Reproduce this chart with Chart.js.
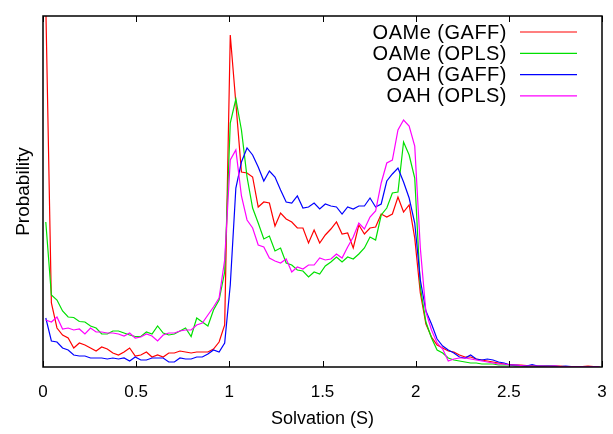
<!DOCTYPE html>
<html>
<head>
<meta charset="utf-8">
<script src="https://cdn.jsdelivr.net/npm/chart.js@4.4.1/dist/chart.umd.min.js"></script>
<style>
  html, body { margin: 0; padding: 0; background: #fff; }
  #wrap { width: 613px; height: 434px; }
</style>
</head>
<body>
<div id="wrap"><canvas id="solvChart" width="613" height="434"></canvas></div>
<script>
// bin centres of the solvation histogram
var solvation = [0.015,0.045,0.075,0.105,0.135,0.165,0.195,0.225,0.255,0.285,0.315,0.345,0.375,0.405,0.435,0.465,0.495,0.525,0.555,0.585,0.615,0.645,0.675,0.705,0.735,0.765,0.795,0.825,0.855,0.885,0.915,0.945,0.975,1.005,1.035,1.065,1.095,1.125,1.155,1.185,1.215,1.245,1.275,1.305,1.335,1.365,1.395,1.425,1.455,1.485,1.515,1.545,1.575,1.605,1.635,1.665,1.695,1.725,1.755,1.785,1.815,1.845,1.875,1.905,1.935,1.965,1.995,2.025,2.055,2.085,2.115,2.145,2.175,2.205,2.235,2.265,2.295,2.325,2.355,2.385,2.415,2.445,2.475,2.505,2.535,2.565,2.595,2.625,2.655,2.685,2.715,2.745,2.775,2.805,2.835,2.865,2.895,2.925,2.955,2.985];

var oameGaff = [3.62,0.64,0.39,0.32,0.29,0.19,0.24,0.22,0.19,0.16,
  0.20,0.18,0.14,0.12,0.15,0.19,0.11,0.12,0.15,0.10,
  0.12,0.10,0.14,0.14,0.16,0.15,0.14,0.15,0.15,0.15,
  0.18,0.25,0.42,3.32,2.64,1.95,1.94,1.90,1.60,1.65,
  1.64,1.41,1.54,1.48,1.45,1.39,1.39,1.24,1.37,1.24,
  1.32,1.38,1.45,1.33,1.34,1.19,1.42,1.33,1.39,1.40,
  1.53,1.50,1.53,1.70,1.55,1.62,1.29,0.74,0.43,0.30,
  0.22,0.19,0.16,0.15,0.12,0.10,0.10,0.08,0.07,0.06,
  0.05,0.04,0.03,0.025,0.02,0.02,0.015,0.015,0.01,0.01,
  0.01,0.01,0.01,0.005,0.005,0.005,0.005,0.01,0.005,0.005];

var oameOpls = [1.45,0.72,0.67,0.56,0.50,0.495,0.455,0.45,0.41,0.39,
  0.33,0.33,0.36,0.36,0.34,0.32,0.305,0.305,0.35,0.33,
  0.41,0.34,0.32,0.33,0.36,0.39,0.305,0.49,0.45,0.41,
  0.57,0.67,0.95,2.44,2.68,2.37,1.90,1.59,1.44,1.28,
  1.31,1.16,1.19,1.04,1.02,0.97,0.96,0.90,0.95,0.93,
  1.01,1.05,1.10,1.05,1.10,1.08,1.13,1.19,1.30,1.27,
  1.52,1.59,1.74,1.75,2.25,2.12,1.89,0.80,0.45,0.29,
  0.17,0.14,0.09,0.07,0.06,0.05,0.04,0.04,0.03,0.03,
  0.03,0.02,0.02,0.02,0.01,0.01,0.01,0.01,0.01,0.01,
  0.005,0.005,0.005,0.005,0.005,0.005,0.005,0.005,0.005,0.005];

var oahGaff = [0.49,0.26,0.25,0.19,0.17,0.12,0.11,0.11,0.09,0.09,
  0.09,0.08,0.09,0.08,0.09,0.06,0.10,0.07,0.07,0.09,
  0.09,0.09,0.05,0.05,0.09,0.08,0.08,0.10,0.10,0.13,
  0.17,0.15,0.24,0.82,1.79,2.05,2.19,2.12,2.00,1.86,
  1.96,1.90,1.77,1.65,1.64,1.71,1.59,1.60,1.64,1.58,
  1.63,1.61,1.60,1.53,1.60,1.58,1.61,1.61,1.69,1.60,
  1.63,1.86,1.93,1.99,1.85,1.69,1.44,0.87,0.56,0.43,
  0.28,0.21,0.17,0.14,0.10,0.09,0.12,0.08,0.07,0.08,
  0.07,0.05,0.04,0.02,0.02,0.015,0.01,0.025,0.01,0.01,
  0.01,0.01,0.005,0.01,0.005,0.005,0.005,0.005,0.005,0.005];

var oahOpls = [0.47,0.45,0.50,0.38,0.39,0.37,0.38,0.33,0.39,0.35,
  0.35,0.34,0.34,0.33,0.31,0.34,0.29,0.30,0.33,0.31,
  0.26,0.32,0.34,0.34,0.36,0.37,0.37,0.42,0.44,0.52,
  0.60,0.69,1.07,2.07,2.17,1.71,1.47,1.39,1.22,1.20,
  1.09,1.06,1.04,1.08,0.95,1.00,0.98,1.02,1.02,1.09,
  1.07,1.08,1.13,1.09,1.20,1.30,1.44,1.38,1.50,1.56,
  1.84,2.04,2.07,2.37,2.47,2.41,2.21,1.19,0.55,0.37,
  0.24,0.18,0.06,0.08,0.09,0.09,0.08,0.07,0.06,0.05,
  0.04,0.03,0.03,0.02,0.02,0.015,0.01,0.01,0.01,0.01,
  0.005,0.01,0.005,0.005,0.005,0.005,0.005,0.005,0.005,0.005];

var seriesNames = ["OAMe (GAFF)", "OAMe (OPLS)", "OAH (GAFF)", "OAH (OPLS)"];
var seriesColors = ["#ff0000", "#00e000", "#0000ff", "#ff00ff"];
var xTicks = [0, 0.5, 1, 1.5, 2, 2.5, 3];

var FONT = "'Liberation Sans', Arial, sans-serif";

function toPoints(ys) {
  return ys.map(function (y, i) { return { x: solvation[i], y: y }; });
}

var allSeries = [oameGaff, oameOpls, oahGaff, oahOpls];
var datasets = allSeries.map(function (ys, i) {
  return {
    label: seriesNames[i],
    data: toPoints(ys),
    borderColor: seriesColors[i],
    borderWidth: 1.2,
    pointRadius: 0,
    tension: 0,
    fill: false,
    order: 4 - i
  };
});

// frame, inward ticks and gnuplot style key (text then line sample)
var gnuplotFrame = {
  id: "gnuplotFrame",
  afterDraw: function (chart) {
    var ctx = chart.ctx;
    var a = chart.chartArea;
    var xs = chart.scales.x;
    ctx.save();
    ctx.strokeStyle = "#000";
    ctx.lineWidth = 1.5;
    ctx.strokeRect(a.left, a.top, a.right - a.left, a.bottom - a.top);
    ctx.lineWidth = 1;
    xTicks.forEach(function (v) {
      var px = Math.round(xs.getPixelForValue(v)) + 0.5;
      ctx.beginPath();
      ctx.moveTo(px, a.bottom);
      ctx.lineTo(px, a.bottom - 6);
      ctx.moveTo(px, a.top);
      ctx.lineTo(px, a.top + 6);
      ctx.stroke();
    });
    ctx.font = "20px " + FONT;
    if ("letterSpacing" in ctx) ctx.letterSpacing = "0.5px";
    ctx.textAlign = "right";
    ctx.textBaseline = "middle";
    seriesNames.forEach(function (name, i) {
      var y = 32 + i * 21.3;
      ctx.fillStyle = "#000";
      ctx.fillText(name, 507, y + 1);
      ctx.strokeStyle = seriesColors[i];
      ctx.lineWidth = 1.2;
      ctx.beginPath();
      ctx.moveTo(520, y);
      ctx.lineTo(577, y);
      ctx.stroke();
    });
    ctx.restore();
  }
};

var solvCtx = document.getElementById("solvChart").getContext("2d");

var solvChart = new Chart(solvCtx, {
  type: "line",
  data: { datasets: datasets },
  options: {
    responsive: false,
    animation: false,
    layout: { padding: { top: 16, right: 11, left: 0, bottom: 0 } },
    plugins: { legend: { display: false }, tooltip: { enabled: false } },
    scales: {
      x: {
        type: "linear",
        min: 0,
        max: 3,
        afterBuildTicks: function (s) { s.ticks = xTicks.map(function (v) { return { value: v }; }); },
        afterFit: function (s) { s.height = 67; s.paddingLeft = 0; s.paddingRight = 0; },
        grid: { display: false },
        border: { display: false },
        ticks: {
          color: "#000",
          font: { size: 17, family: FONT },
          padding: 7,
          maxRotation: 0,
          callback: function (v) { return String(v); }
        },
        title: { display: true, text: "Solvation (S)", color: "#000", font: { size: 18, family: FONT }, padding: { top: 5 } }
      },
      y: {
        min: 0,
        max: 3.51,
        afterFit: function (s) { s.width = 43; },
        grid: { display: false },
        border: { display: false },
        ticks: { display: false },
        title: { display: true, text: "Probability", color: "#000", font: { size: 19, family: FONT }, padding: { top: 12 } }
      }
    }
  },
  plugins: [gnuplotFrame]
});
</script>
</body>
</html>
